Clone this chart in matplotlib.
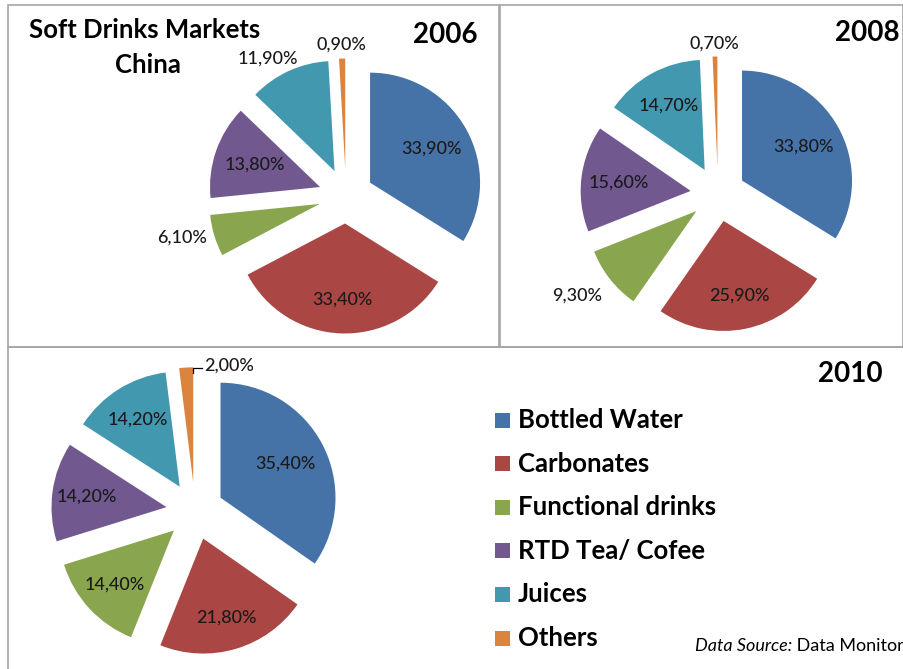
import matplotlib
matplotlib.use("Agg")
import numpy as np
import matplotlib.pyplot as plt
from matplotlib.patches import Rectangle

# ---------------- data ----------------
categories = ["Bottled Water", "Carbonates", "Functional drinks",
              "RTD Tea/ Cofee", "Juices", "Others"]
years = ["2006", "2008", "2010"]
share_2006 = [33.9, 33.4, 6.1, 13.8, 11.9, 0.9]
share_2008 = [33.8, 25.9, 9.3, 15.6, 14.7, 0.7]
share_2010 = [35.4, 21.8, 14.4, 14.2, 14.2, 2.0]

# ---------------- style ----------------
colors = ["#4572A7", "#AA4643", "#89A54E", "#71588F", "#4198AF", "#DB843D"]
FONT = ["Lato", "DejaVu Sans"]
plt.rcParams["font.family"] = FONT
LBL_FS = 13
LBL_W = "medium"

W, H = 904, 669
fig = plt.figure(figsize=(W / 100, H / 100), dpi=100)
ax = fig.add_axes([0, 0, 1, 1])


def Y(py):
    return H - py


def fmt(v):
    return f"{v:.2f}".replace(".", ",") + "%"


# layout per pie: centre (px), radius (px), label distance factors, angle offsets
layouts = [
    dict(center=(346, 196), r=110, ld=[0.64, 0.69, 1.29, 0.63, 1.19, 1.13],
         ao=[0, 0, -3, 0, 6, 0], year_xy=(445, 35)),
    dict(center=(718, 194), r=110, ld=[0.64, 0.69, 1.33, 0.66, 0.67, 1.12],
         ao=[0, 0, -3, 0, 0, 0], year_xy=(867, 33)),
    dict(center=(195, 511), r=115, ld=[0.64, 0.72, 0.70, 0.70, 0.69, None],
         ao=[0, 0, 0, 0, 0, 0], year_xy=(850, 374)),
]
series = [share_2006, share_2008, share_2010]
explode_frac = 0.25

for vals, lay, yr in zip(series, layouts, years):
    cx, cy = lay["center"]
    R = lay["r"]
    wedges, _ = ax.pie(vals, colors=colors, startangle=90, counterclock=False,
                       explode=[explode_frac * R] * len(vals), radius=R,
                       center=(cx, Y(cy)), wedgeprops=dict(linewidth=0))
    for w, v, d, a in zip(wedges, vals, lay["ld"], lay["ao"]):
        ex, ey = w.center
        if d is None:
            # leader line label (small slice)
            th = np.deg2rad(w.theta1)
            px = ex + 0.95 * R * np.cos(th)
            py = ey + 0.95 * R * np.sin(th)
            ax.plot([px, px, px + 9], [py, py + 5, py + 5], color="black", lw=0.9)
            ax.text(px + 11, py + 7, fmt(v), ha="left", va="center",
                    fontsize=LBL_FS, fontweight=LBL_W, color="#1a1a1a")
            continue
        th = np.deg2rad((w.theta1 + w.theta2) / 2 + a)
        ax.text(ex + d * R * np.cos(th), ey + d * R * np.sin(th), fmt(v),
                ha="center", va="center", fontsize=LBL_FS, fontweight=LBL_W,
                color="#1a1a1a")
    yx, yy = lay["year_xy"]
    ax.text(yx, Y(yy), yr, ha="center", va="center", fontsize=20,
            fontweight="bold", color="black")

# panel borders
border = "#a6a6a6"
ax.add_patch(Rectangle((8, Y(347)), 492, 342, fill=False, ec=border, lw=1.2))
ax.add_patch(Rectangle((499, Y(347)), 404, 342, fill=False, ec=border, lw=1.2))
ax.add_patch(Rectangle((8, Y(672)), 900, 325, fill=False, ec=border, lw=1.2))

# title
ax.text(145, Y(30), "Soft Drinks Markets", ha="center", va="center",
        fontsize=18.5, fontweight="bold")
ax.text(148, Y(65), "China", ha="center", va="center",
        fontsize=18.5, fontweight="bold")

# legend
leg_y0, leg_dy = 420, 43.6
for i, (cat, col) in enumerate(zip(categories, colors)):
    yc = leg_y0 + i * leg_dy
    ax.add_patch(Rectangle((495, Y(yc) - 7.5), 15, 15, fc=col, ec="none"))
    ax.text(518, Y(yc), cat, ha="left", va="center", fontsize=18.5,
            fontweight="bold")

# source
t1 = ax.text(695, Y(646), "Data Source:", ha="left", va="center",
             fontsize=13, style="italic")
ax.annotate(" Data Monitor", xy=(1, 0.5), xycoords=t1, ha="left", va="center",
            fontsize=13)

ax.set_xlim(0, W)
ax.set_ylim(0, H)
ax.set_aspect("auto")
ax.axis("off")
fig.savefig("out.png", dpi=100, facecolor="white")
